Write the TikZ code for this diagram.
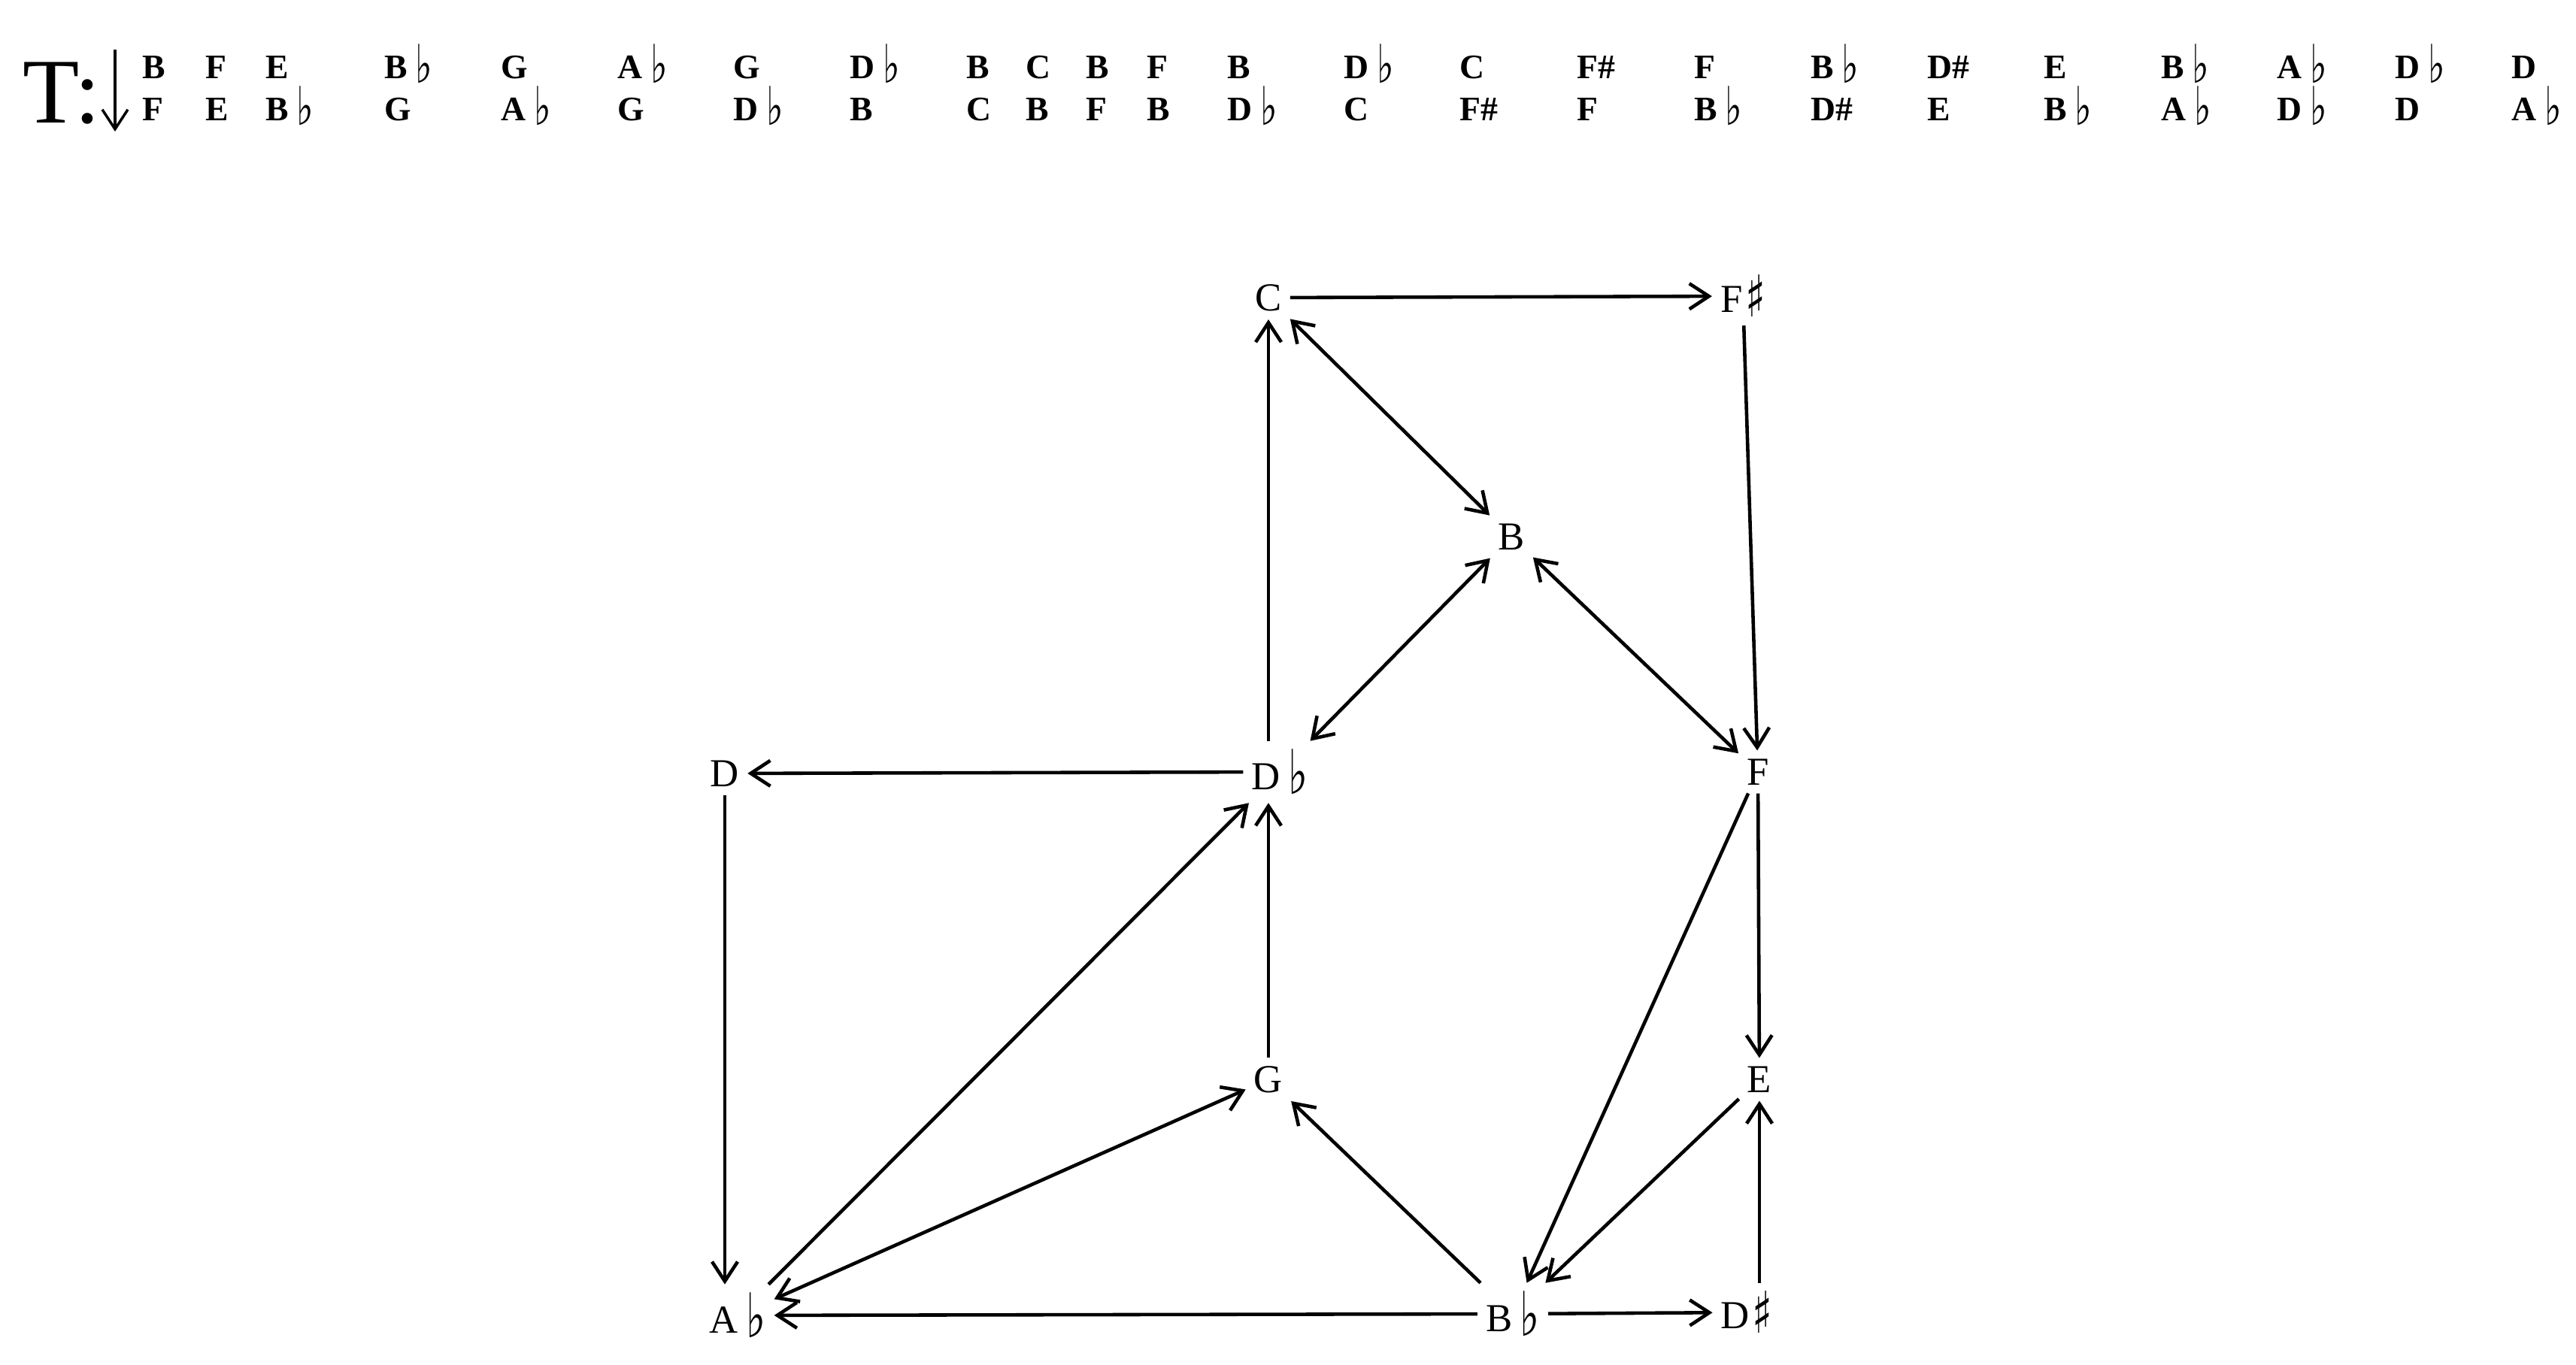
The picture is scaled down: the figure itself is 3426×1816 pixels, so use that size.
\documentclass[tikz,border=0pt]{standalone}
\usepackage{fontspec}
\usepackage{graphicx}
\setmainfont{Liberation Serif}
\newfontfamily\musicfont{DejaVu Sans}
\usetikzlibrary{arrows.meta}
% tall thin flat and sharp signs
\newcommand\flt{\hspace{3pt}\raisebox{-0.12em}{\scalebox{1.05}[1.55]{\musicfont\mdseries\char"266D}}}
\newcommand\shp{\hspace{1pt}\raisebox{-0.12em}{\scalebox{1.05}[1.45]{\musicfont\char"266F}}}
\begin{document}
\begin{tikzpicture}[x=0.01cm,y=-0.01cm,
    >={Straight Barb[length=2.6mm,width=3.4mm]},
    note/.style={inner sep=3pt,font=\fontsize{15}{18}\selectfont},
    row/.style={anchor=base west,inner sep=0pt,font=\fontsize{13}{15}\selectfont\bfseries},
    link/.style={line width=1.3pt}]
    \useasboundingbox (0,0) rectangle (3426,1816);
    % sequence of transitions
    \node[anchor=base west,inner sep=0pt,font=\fontsize{35}{40}\selectfont] (tee) at (30,164) {T:};
    \coordinate (down) at (153,66);
    \draw[->,line width=1pt] (down) -- ++(0,109);
    \foreach \xpos/\up/\dn [count=\i] in {189/B/F, 273/F/E, 353/E/{B\flt}, 511/{B\flt}/G,
        666/G/{A\flt}, 821/{A\flt}/G, 975/G/{D\flt}, 1130/{D\flt}/B, 1285/B/C, 1364/C/B,
        1444/B/F, 1525/F/B, 1632/B/{D\flt}, 1787/{D\flt}/C, 1941/C/{F\#}, 2097/{F\#}/F,
        2253/F/{B\flt}, 2408/{B\flt}/{D\#}, 2563/{D\#}/E, 2718/E/{B\flt}, 2874/{B\flt}/{A\flt},
        3028/{A\flt}/{D\flt}, 3185/{D\flt}/D, 3340/D/{A\flt}}{
        \node[row] (up\i) at (\xpos,105) {\up};
        \node[row] (dn\i) at (\xpos,161) {\dn};
    }
    % the graph
    \node[note] (C) at (1687,396) {C};
    \node[note] (Fs) at (2318,394) {F\shp};
    \node[note] (B) at (2010,714) {B};
    \node[note] (Db) at (1702,1027) {D\flt};
    \node[note] (D) at (964,1029) {D};
    \node[note] (F) at (2338,1027) {F};
    \node[note] (G) at (1687,1436) {G};
    \node[note] (E) at (2340,1436) {E};
    \node[note] (Ab) at (981,1750) {A\flt};
    \node[note] (Bb) at (2012,1748) {B\flt};
    \node[note] (Ds) at (2323,1746) {D\shp};
    \draw[link,->] (C) -- (Fs);
    \draw[link,->] (Fs) -- (F);
    \draw[link,<->] (C) -- (B);
    \draw[link,<->] (B) -- (Db);
    \draw[link,<->] (B) -- (F);
    \draw[link,->] (C |- Db.north) -- (C);
    \draw[link,->] (Db) -- (D);
    \draw[link,->] (D) -- (D |- Ab.north);
    \draw[link,->] (Ab) -- (Db);
    \draw[link,->] (Bb) -- (Ab);
    \draw[link,<->] (Ab) -- (G);
    \draw[link,->] (G) -- (G |- Db.south);
    \draw[link,->] (Bb) -- (G);
    \draw[link,->] (F) -- (Bb);
    \draw[link,->] (E) -- (Bb);
    \draw[link,->] (F) -- (E);
    \draw[link,->] (E |- Ds.north) -- (E);
    \draw[link,->] (Bb) -- (Ds);
\end{tikzpicture}
\end{document}
